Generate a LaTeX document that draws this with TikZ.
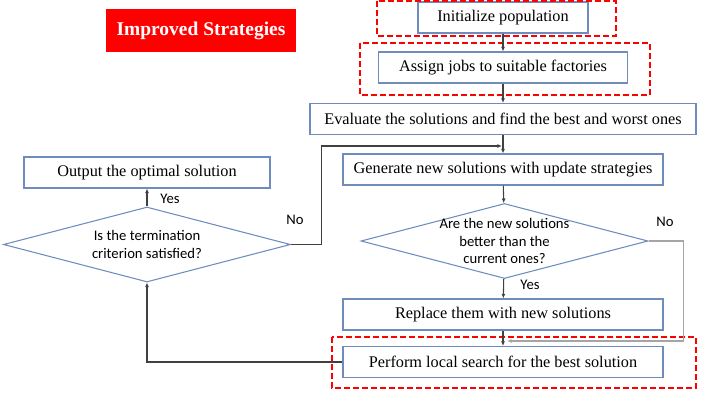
\documentclass[tikz,border=0pt]{standalone}
\usepackage{fontspec}
\setmainfont{Liberation Serif}
\newfontfamily\calibri{Carlito}
\usetikzlibrary{shapes.geometric,arrows.meta}
\definecolor{boxblue}{RGB}{112,140,190}
\definecolor{linegray}{RGB}{64,64,64}
\definecolor{loopgray}{RGB}{165,165,165}
\definecolor{titlered}{RGB}{255,0,0}
\tikzset{
  box/.style={draw=boxblue,line width=0.8pt,minimum height=23.25pt,inner sep=0pt,
    font=\fontsize{12.2}{14}\selectfont},
  decision/.style={diamond,draw=boxblue,line width=0.8pt,inner sep=0pt,aspect=3.8,
    minimum width=215.25pt,minimum height=56.25pt},
  asktext/.style={align=center,inner sep=0pt,font=\calibri\fontsize{11}{13.1}\selectfont},
  flow/.style={draw=linegray,line width=0.8pt,-{Latex[length=3.5pt,width=3pt]}},
  hilite/.style={draw=titlered,line width=1.5pt,dash pattern=on 4.5pt off 2.25pt},
  tag/.style={font=\calibri\fontsize{11}{13}\selectfont,inner sep=1pt}
}
\begin{document}
\begin{tikzpicture}[x=0.75pt,y=-0.75pt]
\useasboundingbox (0,0) rectangle (728,400);

% title
\node[fill=titlered,text=white,minimum width=142.5pt,minimum height=32.25pt,
  font=\bfseries\fontsize{14.6}{17}\selectfont] (title) at (201,30.5) {Improved Strategies};

% main column
\node[box,minimum width=127.5pt] (init) at (503,17.5) {Initialize population};
\node[box,minimum width=186.75pt] (assign) at (503,67.5) {Assign jobs to suitable factories};
\node[box,minimum width=289.5pt] (eval) at (503,119) {Evaluate the solutions and find the best and worst ones};
\node[box,minimum width=240pt] (gen) at (503,169.5) {Generate new solutions with update strategies};
\node[decision,label={[asktext]center:Are the new solutions\\better than the\\current ones?}]
  (better) at (504.5,241) {};
\node[box,minimum width=240pt] (replace) at (503,314.5) {Replace them with new solutions};
\node[box,minimum width=240pt] (local) at (503,362) {Perform local search for the best solution};

% left column
\node[box,minimum width=184.5pt] (output) at (147,172.5) {Output the optimal solution};
\node[decision,label={[asktext]center:Is the termination\\criterion satisfied?}]
  (term) at (147,244.5) {};

% highlighted steps
\draw[hilite] (377,1) rectangle (616,36);
\draw[hilite] (360,43) rectangle (650,95);
\draw[hilite] (332,337) rectangle (696,388);

\coordinate (join) at (502,146);
\coordinate (merge) at (507,341);

\draw[flow] (init) -- (assign);
\draw[flow] (assign) -- (eval);
\draw[flow] (eval) -- (gen);
\draw[flow] (gen) -- (better);
\draw[flow] (better) -- (replace);
\draw[flow] (replace) -- (local);
\draw[flow,draw=loopgray] (better.east) -- ++(35,0) |- (merge);
\draw[flow] (local.west) -| (term.south);
\draw[flow] (term) -- (output);
\draw[flow] (term.east) -- ++(30,0) |- (join);

\node[tag] (yes1) at (170,199) {Yes};
\node[tag] (no1) at (295,220) {No};
\node[tag] (no2) at (665,222) {No};
\node[tag] (yes2) at (530,285) {Yes};
\end{tikzpicture}
\end{document}
